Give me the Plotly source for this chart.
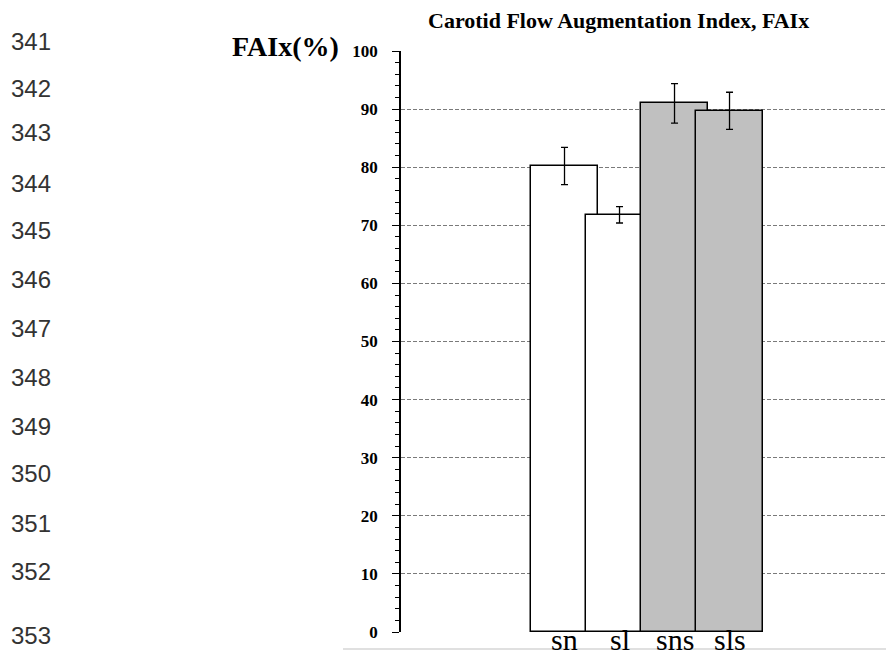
import plotly.graph_objects as go

categories = ["sn", "sl", "sns", "sls"]
values = [80.2, 71.8, 91.0, 89.7]
errors = [3.2, 1.4, 3.4, 3.2]
bar_colors = ["#ffffff", "#ffffff", "#c0c0c0", "#c0c0c0"]
y_ticks = [0, 10, 20, 30, 40, 50, 60, 70, 80, 90, 100]
line_numbers = ["341", "342", "343", "344", "345", "346", "347", "348", "349", "350", "351", "352", "353"]
line_number_px = [41, 88, 133, 183, 230, 279, 328, 377, 426, 474, 523, 571, 636]

OFF = 8  # default page body margin
W, H = 894 - OFF, 654 - OFF
PLOT_L, PLOT_R, PLOT_T, PLOT_B = 401, 890, 51, 632  # screen pixels of plot area
L = PLOT_L - OFF
T = PLOT_T - OFF
R = W - (PLOT_R - OFF)
B = H - (PLOT_B - OFF)
PW = PLOT_R - PLOT_L
PH = PLOT_B - PLOT_T

def px_x(x):
    return (x - PLOT_L) / PW

def px_y(y):
    return (PLOT_B - y) / PH

serif = "Liberation Serif, Times New Roman, serif"

fig = go.Figure()
fig.add_trace(go.Bar(
    x=list(range(len(categories))),
    y=values,
    width=1.22,
    marker=dict(color=bar_colors, line=dict(color="#000000", width=1.5)),
    error_y=dict(type="data", array=errors, visible=True, color="#000000", thickness=1.3, width=3.5),
    showlegend=False,
))

annotations = []
for i, c in enumerate(categories):
    annotations.append(dict(x=i, xref="x", y=0, yref="paper", xanchor="center", yanchor="top", yshift=11,
                            text=c, showarrow=False, font=dict(family=serif, size=30, color="#000")))
annotations.append(dict(x=px_x(618), y=px_y(20), xref="paper", yref="paper", xanchor="center", yanchor="middle",
                        text="<b>Carotid Flow Augmentation Index, FAIx</b>", showarrow=False,
                        font=dict(family=serif, size=22, color="#000")))
annotations.append(dict(x=px_x(285), y=px_y(46), xref="paper", yref="paper", xanchor="center", yanchor="middle",
                        text="<b>FAIx(%)</b>", showarrow=False,
                        font=dict(family=serif, size=28, color="#000")))
for t, p in zip(line_numbers, line_number_px):
    annotations.append(dict(x=px_x(31), y=px_y(p), xref="paper", yref="paper", xanchor="center", yanchor="middle",
                            text=t, showarrow=False,
                            font=dict(family="Liberation Sans, Arial, sans-serif", size=24, color="#333333")))

fig.update_layout(
    width=W, height=H,
    margin=dict(l=L, r=R, t=T, b=B, pad=0),
    paper_bgcolor="#ffffff", plot_bgcolor="#ffffff",
    annotations=annotations,
    shapes=[dict(type="line", xref="paper", yref="paper", x0=px_x(343), x1=px_x(900),
                 y0=px_y(649), y1=px_y(649), line=dict(color="#d6d6d6", width=1.5))],
    bargap=0,
)
fig.update_xaxes(range=[-2.973, -2.973 + PW / 55.0], showgrid=False, zeroline=False,
                 showline=False, showticklabels=False, ticks="")
fig.update_yaxes(range=[0, 100], tickvals=y_ticks, showgrid=True, gridcolor="#7a7a7a",
                 griddash="4px,2px", gridwidth=1, zeroline=False,
                 showline=True, linecolor="#000", linewidth=1.5,
                 ticks="outside", ticklen=7, tickwidth=1.3, tickcolor="#000",
                 minor=dict(dtick=2, ticks="outside", ticklen=4, tickwidth=1, tickcolor="#000", showgrid=False),
                 ticklabelstandoff=11,
                 tickfont=dict(family=serif, size=17, color="#000", weight="bold"))

fig.write_html("out.html")
